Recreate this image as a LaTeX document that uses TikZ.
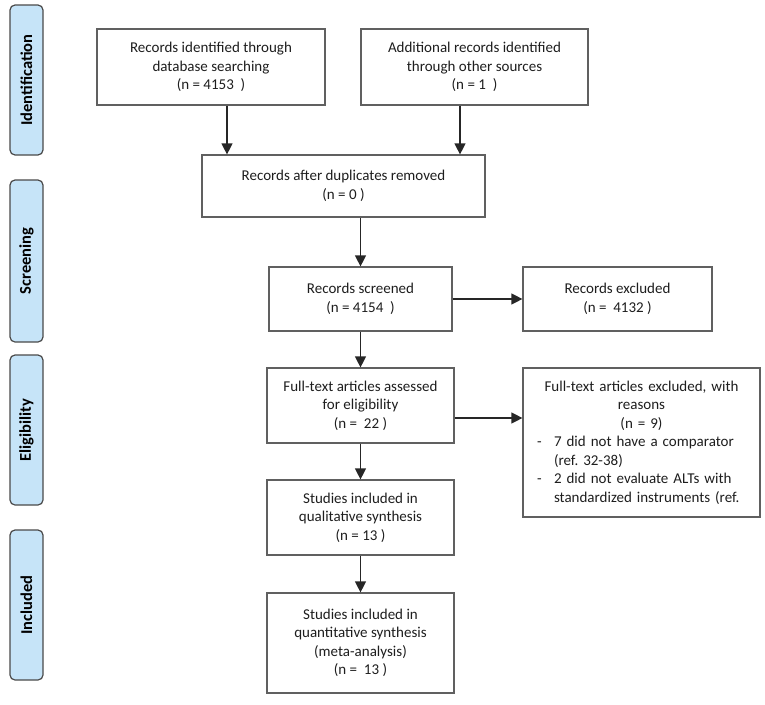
\documentclass[tikz,border=0pt]{standalone}
\usepackage{fontspec}
\setmainfont{Carlito}
\usetikzlibrary{arrows.meta}
\definecolor{sidefill}{HTML}{C6E4F8}
\definecolor{sidedraw}{HTML}{4A4A4A}
\definecolor{boxdraw}{HTML}{606060}
\definecolor{txt}{HTML}{1E1E1E}
\tikzset{
  box/.style={draw=boxdraw, line width=1.2pt, fill=white, align=center, text=txt,
    font=\fontsize{15}{18.5}\selectfont, inner sep=0pt},
  side/.style={draw=sidedraw, line width=1.2pt, fill=sidefill, rounded corners=5pt,
    minimum width=33pt, text=black, font=\fontsize{16.5}{18}\selectfont\bfseries,
    inner sep=0pt},
  arr/.style={draw=black!85, line width=1.2pt, -{Triangle[length=11pt,width=11pt]}}
}
\begin{document}
\begin{tikzpicture}[x=1pt,y=-1pt]
\useasboundingbox (0,0) rectangle (765,704);
% side labels
\node[side, minimum height=150pt] (sid) at (26.5,80) {\rotatebox{90}{Identification}};
\node[side, minimum height=162pt] (ssc) at (26.5,261) {\rotatebox{90}{Screening}};
\node[side, minimum height=150pt] (sel) at (26.5,430) {\rotatebox{90}{Eligibility}};
\node[side, minimum height=150pt] (sin) at (26.5,605) {\rotatebox{90}{Included}};
% boxes
\node[box, minimum width=228pt, minimum height=76pt] (b1) at (211,67)
  {Records identified through\\database searching\\(n = 4153~~)};
\node[box, minimum width=227pt, minimum height=76pt] (b2) at (474.5,67)
  {Additional records identified\\through other sources\\(n = 1~~)};
\node[box, minimum width=283pt, minimum height=62pt] (dup) at (343.5,186)
  {Records after duplicates removed\\(n = 0 )};
\node[box, minimum width=183pt, minimum height=64pt] (scr) at (360.5,299)
  {Records screened\\(n = 4154~~)};
\node[box, minimum width=189pt, minimum height=64pt] (exc1) at (617.5,299)
  {Records excluded\\(n = ~4132 )};
\node[box, minimum width=187pt, minimum height=75pt] (full) at (360.5,405.5)
  {Full-text articles assessed\\for eligibility\\(n = ~22 )};
\node[box, minimum width=237pt, minimum height=149pt, text width=209pt, align=left] (exc2) at (641.5,442.5)
  {\centering Full-text articles excluded, with\\ reasons\\ (n = 9)\par
   \raggedright\makebox[17pt][l]{-}7 did not have a comparator\\
   \hspace*{17pt}(ref.\ 32-38)\\
   \makebox[17pt][l]{-}2 did not evaluate ALTs with\\
   \hspace*{17pt}standardized instruments (ref.\par};
\node[box, minimum width=187pt, minimum height=75pt] (qual) at (360.5,517.5)
  {Studies included in\\qualitative synthesis\\(n = 13 )};
\node[box, minimum width=187pt, minimum height=100pt] (quant) at (360.5,643)
  {Studies included in\\quantitative synthesis\\(meta-analysis)\\(n = ~13 )};
% connector guides
\coordinate (c1) at (227,0);
\coordinate (c2) at (460,0);
\coordinate (h2) at (0,418);
% connectors
\draw[arr] (c1 |- b1.south) -- (c1 |- dup.north);
\draw[arr] (c2 |- b2.south) -- (c2 |- dup.north);
\draw[arr] (scr.north |- dup.south) -- (scr.north);
\draw[arr] (scr.east) -- (exc1.west);
\draw[arr] (scr.south) -- (full.north);
\draw[arr] (full.east |- h2) -- (exc2.west |- h2);
\draw[arr] (full.south) -- (qual.north);
\draw[arr] (qual.south) -- (quant.north);
\end{tikzpicture}
\end{document}
